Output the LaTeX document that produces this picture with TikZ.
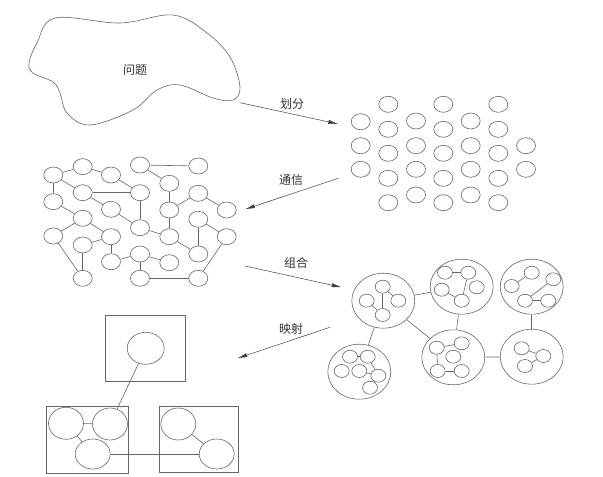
\documentclass[tikz,border=0pt]{standalone}
\usepackage{fontspec}
\newfontfamily\cjk{Noto Sans CJK SC}
\usetikzlibrary{positioning}
\usetikzlibrary{shapes.geometric}
\usetikzlibrary{arrows.meta}
\tikzset{% looks used all over the picture
        ln/.style={draw=black!60, line width=0.6pt},
        dot/.style={ln, ellipse, inner sep=0pt, minimum width=19pt, minimum height=16pt},
        sdot/.style={ln, ellipse, inner sep=0pt, minimum width=15pt, minimum height=13pt},
        grp/.style={ln, ellipse, inner sep=0pt, minimum width=63pt, minimum height=55pt},
        bdot/.style={ln, ellipse, inner sep=0pt, minimum width=35pt, minimum height=32pt},
        box/.style={ln, rectangle, inner sep=0pt},
        go/.style={draw=black!75, line width=0.5pt, -{Latex[length=10pt,width=4pt]}},
        lbl/.style={font=\cjk\fontsize{12}{14}\selectfont, text=black!80}
        }

\begin{document}
\begin{tikzpicture}[x=1pt,y=-1pt]
\useasboundingbox (0,0) rectangle (603,477);
% the problem
\draw[ln] plot[smooth cycle, tension=0.6] coordinates {(55,18) (120,23) (173,15) (207,33) (230,57)
  (240,87) (233,100) (213,98) (180,85) (157,90) (133,110) (90,125) (67,113) (60,93) (53,82)
  (33,73) (29,63) (37,43)};
\node[lbl] (prob) at (135,70) {问题};

% partition: loose tasks
\foreach \x/\ys [count=\c] in {360.7/{121.7,145.7,169.3}, 388.3/{104.3,129.3,153.3,178.3,202.7},
  416/{121,145.7,169.3,195}, 443.3/{104.3,129.3,153.3,178.3,202.7}, 470.7/{121,145.7,169.3,195},
  498.3/{104.3,129.3,153.3,178.3,202.7}, 526/{145.7,169.3}}
  \foreach \y [count=\r] in \ys
    \node[dot] (t\c-\r) at (\x,\y) {};

% communication: task graph
\foreach \n/\x/\y in {1/53.3/175, 2/82.7/166.7, 3/111/175, 4/140/165, 5/198.3/166, 6/169.3/183.3,
  7/82.7/192.7, 8/140/192.7, 9/198.3/193.3, 10/53.3/201.7, 11/111/209.3, 12/169.3/210,
  13/226.7/210, 14/82.7/218.3, 15/198.3/219.3, 16/140/227.7, 17/53.3/236, 18/111/236.7,
  19/169.3/236.7, 20/226.7/236.7, 21/82.7/245, 22/140/254, 23/198.3/254, 24/111/261.7,
  25/169.3/262.7, 26/82.7/278.3, 27/140/278.3, 28/198.3/278.3}
  \node[dot] (g\n) at (\x,\y) {};
\foreach \a/\b in {1/2, 2/3, 1/10, 1/7, 7/8, 3/8, 4/5, 4/6, 6/12, 12/9, 9/13, 12/19, 7/11,
  11/16, 8/16, 16/19, 19/23, 15/23, 15/20, 20/28, 27/28, 22/27, 22/25, 24/22, 18/24, 21/18,
  21/26, 17/26, 17/14, 10/14, 14/18}
  \draw[ln] (g\a) -- (g\b);

% agglomeration: groups of tasks
\node[grp] (c1) at (383.3,300.7) {};
\node[grp] (c2) at (461.7,286.7) {};
\node[grp] (c3) at (531.7,286.7) {};
\node[grp] (c4) at (359.3,371.7) {};
\node[grp] (c5) at (453.3,357.3) {};
\node[grp] (c6) at (531.7,356.7) {};
\foreach \a/\b in {1/2, 1/5, 2/5, 1/4, 5/6, 3/6}
  \draw[ln] (c\a) -- (c\b);
% inside the groups
\foreach \n/\x/\y in {1a/382.7/286.7, 1b/366.7/300.7, 1c/398.3/300.7, 1d/382.7/315,
  2a/445/272.7, 2b/468.3/272.7, 2c/441.7/289.7, 2d/476.7/287.3, 2e/461.7/300.7,
  3a/531.7/272.7, 3b/511.7/286, 3c/553.3/279.3, 3d/525/300.7, 3e/548.3/300.7,
  4a/350/356.7, 4b/367.7/356.7, 4c/341.7/371, 4d/359.3/371, 4e/378.3/375.7, 4f/370/387.7,
  5a/436.7/347.7, 5b/461.7/343.3, 5c/453.3/356.7, 5d/437.7/371, 5e/461.7/371,
  6a/521.7/348.3, 6b/543.3/356, 6c/525/366}
  \node[sdot] (s\n) at (\x,\y) {};
\foreach \a/\b in {1a/1d, 1a/1c, 1b/1d, 2a/2b, 2b/2e, 2c/2e, 3b/3a, 3c/3d, 3d/3e,
  4a/4b, 4b/4e, 4d/4e, 4e/4f, 5a/5b, 5a/5d, 5d/5e, 6a/6b, 6c/6b}
  \draw[ln] (s\a) -- (s\b);

% mapping: processors
\node[box, minimum width=80pt, minimum height=66pt] (p1) at (145.7,348) {};
\node[box, minimum width=82.3pt, minimum height=67.3pt] (p2) at (87.2,439.7) {};
\node[box, minimum width=79.3pt, minimum height=65.6pt] (p3) at (198.7,439.5) {};
\node[bdot, minimum width=37pt] (m1) at (145.7,348.3) {};
\node[bdot] (m2) at (66,423.3) {};
\node[bdot] (m3) at (110,424) {};
\node[bdot, minimum height=30pt] (m4) at (92.7,454) {};
\node[bdot] (m5) at (178.3,424) {};
\node[bdot, minimum height=30pt] (m6) at (216.7,454) {};
\foreach \a/\b in {1/3, 2/3, 2/4, 4/6, 5/6}
  \draw[ln] (m\a) -- (m\b);

% the four steps
\coordinate (a1s) at (240,102.7);
\coordinate (a1e) at (338.3,124);
\coordinate (a2s) at (338.3,178.3);
\coordinate (a2e) at (245,209.3);
\coordinate (a3s) at (245,266);
\coordinate (a3e) at (341.7,287.3);
\coordinate (a4s) at (330,327.3);
\coordinate (a4e) at (237.3,358.3);
\draw[go] (a1s) -- (a1e);
\draw[go] (a2s) -- (a2e);
\draw[go] (a3s) -- (a3e);
\draw[go] (a4s) -- (a4e);
\node[lbl] (step1) at (292,104) {划分};
\node[lbl] (step2) at (291,180) {通信};
\node[lbl] (step3) at (296,262.7) {组合};
\node[lbl] (step4) at (291,328.5) {映射};
\end{tikzpicture}
\end{document}
